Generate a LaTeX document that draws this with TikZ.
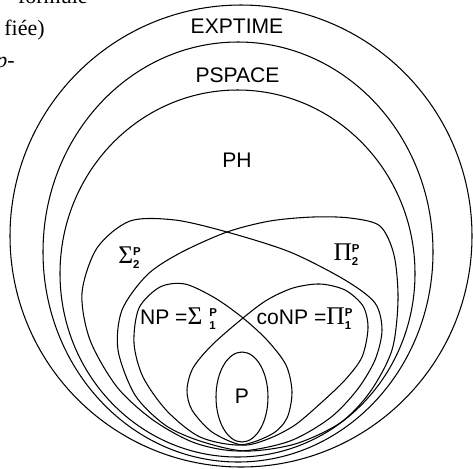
\documentclass[tikz,border=0pt]{standalone}
\usepackage{fontspec}
\setmainfont{Liberation Sans}
\newfontfamily\bodyserif{Liberation Serif}
\usepackage{tikz}
\usetikzlibrary{positioning}

\newcommand{\supsz}{\fontsize{6.5}{6.5}\selectfont\bfseries}
\newcommand{\hcls}[3][0pt]{{\fontsize{14.5}{16}\bodyserif #2}\hspace{#1}$^{\mbox{\supsz P}}_{\mbox{\supsz #3}}$}

\begin{document}
\begin{tikzpicture}[
  x=0.02cm, y=-0.02cm,
  ring/.style={draw, black, line width=0.6pt},
  lbl/.style={font=\fontsize{12}{14}\selectfont, inner sep=0pt, anchor=base},
  frag/.style={font=\fontsize{12.5}{14}\selectfont\bodyserif, inner sep=0pt, anchor=base east},
]
\useasboundingbox (0,0) rectangle (473,468);
\clip (0,0) rectangle (473,468);

% --- nested classes ---
\draw[ring] (241,236) circle (231);
\draw[ring] (238,252) ellipse (195 and 210);
\draw[ring] (237.5,273.5) ellipse (177.5 and 183.5);

% --- second level (two loops, crossing) ---
\draw[ring] plot[smooth cycle] coordinates {
  (240,451) (195,443) (153,420) (117,387) (90,340) (82,293) (97,248) (130,221)
  (175,220) (227,232) (290,252) (345,280) (375,303) (382,330) (375,360)
  (357,390) (330,418) (290,441)};
\draw[ring] plot[smooth cycle] coordinates {
  (245,451) (200,441) (165,425) (135,395) (118,350) (122,310) (147,275)
  (180,253) (227,232) (270,221) (313,217) (350,218) (380,226) (394,255)
  (398,300) (392,350) (370,392) (340,423) (295,444)};

% --- first level ---
\draw[ring] plot[smooth cycle] coordinates {
  (240,445) (200,437) (167,411) (143,377) (134,343) (139,308) (160,287)
  (185,284) (215,298) (243,318) (267,340) (286,365) (292,392) (287,418)
  (272,434)};
\draw[ring] plot[smooth cycle] coordinates {
  (242,445) (212,432) (192,410) (187,390) (193,368) (212,345) (243,318)
  (267,300) (293,288) (320,284) (345,290) (363,306) (368,328) (362,357)
  (345,380) (322,402) (295,425) (268,439)};

% --- P ---
\draw[ring] (242,397) ellipse (26 and 45);

% --- labels ---
\node[lbl] (exptime) at (237,33) {EXPTIME};
\node[lbl] (pspace) at (237.5,82) {PSPACE};
\node[lbl] (ph) at (237,167) {PH};
\node[lbl] (sigtwo) at (130,263) {\hcls{Σ}{2}};
\node[lbl] (pitwo) at (347,260) {\hcls{Π}{2}};
\node[lbl] (np) at (179,324) {NP =\hcls[4pt]{Σ}{1}};
\node[lbl] (conp) at (305,324) {coNP =\hcls{Π}{1}};
\node[lbl] (p) at (242,403) {P};

% --- surrounding text, cut off ---
\node[frag] (frag1) at (88,3) {formule};
\node[frag] (frag2) at (45,35) {fiée)};
\node[frag] (frag3) at (15,67) {\textit{p}-};
\end{tikzpicture}
\end{document}
